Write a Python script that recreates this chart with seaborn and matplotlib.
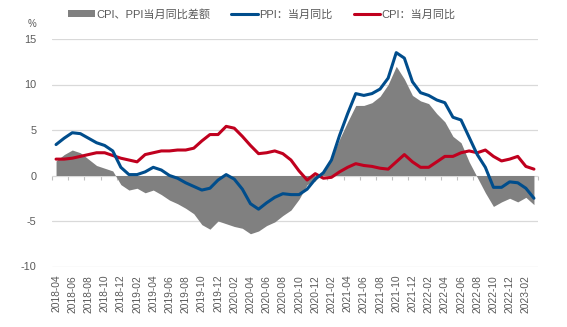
import numpy as np
import pandas as pd
import matplotlib
matplotlib.use("Agg")
import matplotlib.pyplot as plt
from matplotlib.patches import Patch
from matplotlib.lines import Line2D
import seaborn as sns

months = ["2018-04", "2018-05", "2018-06", "2018-07", "2018-08", "2018-09", "2018-10", "2018-11", "2018-12",
          "2019-01", "2019-02", "2019-03", "2019-04", "2019-05", "2019-06", "2019-07", "2019-08", "2019-09",
          "2019-10", "2019-11", "2019-12",
          "2020-01", "2020-02", "2020-03", "2020-04", "2020-05", "2020-06", "2020-07", "2020-08", "2020-09",
          "2020-10", "2020-11", "2020-12",
          "2021-01", "2021-02", "2021-03", "2021-04", "2021-05", "2021-06", "2021-07", "2021-08", "2021-09",
          "2021-10", "2021-11", "2021-12",
          "2022-01", "2022-02", "2022-03", "2022-04", "2022-05", "2022-06", "2022-07", "2022-08", "2022-09",
          "2022-10", "2022-11", "2022-12",
          "2023-01", "2023-02", "2023-03"]

ppi = [3.4, 4.1, 4.7, 4.6, 4.1, 3.6, 3.3, 2.7, 0.9,
       0.1, 0.1, 0.4, 0.9, 0.6, 0.0, -0.3, -0.8, -1.2, -1.6, -1.4, -0.5,
       0.1, -0.4, -1.5, -3.1, -3.7, -3.0, -2.4, -2.0, -2.1, -2.1, -1.5, -0.4,
       0.3, 1.7, 4.4, 6.8, 9.0, 8.8, 9.0, 9.5, 10.7, 13.5, 12.9, 10.3,
       9.1, 8.8, 8.3, 8.0, 6.4, 6.1, 4.2, 2.3, 0.9, -1.3, -1.3, -0.7,
       -0.8, -1.4, -2.5]

cpi = [1.8, 1.8, 1.9, 2.1, 2.3, 2.5, 2.5, 2.2, 1.9,
       1.7, 1.5, 2.3, 2.5, 2.7, 2.7, 2.8, 2.8, 3.0, 3.8, 4.5, 4.5,
       5.4, 5.2, 4.3, 3.3, 2.4, 2.5, 2.7, 2.4, 1.7, 0.5, -0.5, 0.2,
       -0.3, -0.2, 0.4, 0.9, 1.3, 1.1, 1.0, 0.8, 0.7, 1.5, 2.3, 1.5,
       0.9, 0.9, 1.5, 2.1, 2.1, 2.5, 2.7, 2.5, 2.8, 2.1, 1.6, 1.8,
       2.1, 1.0, 0.7]

gap = [1.6, 2.3, 2.8, 2.5, 1.8, 1.1, 0.8, 0.5, -1.0,
       -1.6, -1.4, -1.9, -1.6, -2.1, -2.7, -3.1, -3.6, -4.2, -5.4, -5.9, -5.0,
       -5.3, -5.6, -5.8, -6.4, -6.1, -5.5, -5.1, -4.4, -3.8, -2.6, -1.0, -0.6,
       0.6, 1.9, 4.0, 5.9, 7.7, 7.7, 8.0, 8.7, 10.0, 12.0, 10.6, 8.8,
       8.2, 7.9, 6.8, 5.9, 4.3, 3.6, 1.5, -0.2, -1.9, -3.4, -2.9, -2.5,
       -2.9, -2.4, -3.2]

yticks = [-10, -5, 0, 5, 10, 15]

label_gap = "CPI、PPI当月同比差额"
label_ppi = "PPI：当月同比"
label_cpi = "CPI：当月同比"

GRAY = "#808080"
BLUE = "#004D8C"
RED = "#C0001E"
TXT = "#595959"
GRID = "#d9d9d9"

sns.set_style("white")
plt.rcParams["font.family"] = ["Liberation Sans", "Noto Sans CJK SC", "DejaVu Sans"]

df = pd.DataFrame({"month": months, "ppi": ppi, "cpi": cpi, "gap": gap})
df["x"] = np.arange(len(df))

fig = plt.figure(figsize=(5.67, 3.27), dpi=100)
ax = fig.add_axes([52 / 567, 1 - 266.5 / 327, (538 - 52) / 567, (266.5 - 39) / 327])

ax.fill_between(df["x"], 0, df["gap"], color=GRAY, linewidth=0, zorder=2)
sns.lineplot(data=df, x="x", y="ppi", ax=ax, color=BLUE, linewidth=2.2, zorder=4, legend=False)
sns.lineplot(data=df, x="x", y="cpi", ax=ax, color=RED, linewidth=2.2, zorder=3, legend=False)

ax.set_xlim(-0.5, len(df) - 0.5)
ax.set_ylim(-10, 15)
ax.set_yticks(yticks)
ax.set_yticklabels([str(v) for v in yticks])
ax.set_xlabel("")
ax.set_ylabel("")

tick_pos = df["x"].values[::2]
ax.set_xticks(tick_pos)
ax.set_xticklabels(df["month"].values[::2], rotation=90, va="top", ha="center")
ax.tick_params(axis="x", length=0, pad=6, labelsize=7.4, labelcolor=TXT)
ax.tick_params(axis="y", length=0, pad=11, labelsize=7.8, labelcolor=TXT)

ax.grid(False)
for v in yticks:
    ax.axhline(v, color=GRID, linewidth=0.9, zorder=1)
for s in ax.spines.values():
    s.set_visible(False)

# zero axis with boundary tick marks
zero_loc = (0 - (-10)) / (15 - (-10))
sec = ax.secondary_xaxis(zero_loc)
sec.set_xticks(np.arange(-0.5, len(df), 2))
sec.set_xticklabels([])
sec.tick_params(axis="x", direction="out", length=3, width=0.8, color="#bfbfbf")
for k in sec.spines:
    sec.spines[k].set_visible(False)

fig.text(32 / 567, 1 - 24 / 327, "%", ha="center", va="center", fontsize=7, color=TXT)

handles = [Patch(facecolor=GRAY, edgecolor="none"),
           Line2D([0], [0], color=BLUE, linewidth=2.2),
           Line2D([0], [0], color=RED, linewidth=2.2)]
leg = fig.legend(handles, [label_gap, label_ppi, label_cpi], loc="center", ncol=3,
                 bbox_to_anchor=(262 / 567, 1 - 14 / 327), frameon=False,
                 fontsize=8, handlelength=2.4, handleheight=0.5, handletextpad=0.1,
                 columnspacing=1.9, labelcolor=TXT)

fig.savefig("out.png", dpi=100)
